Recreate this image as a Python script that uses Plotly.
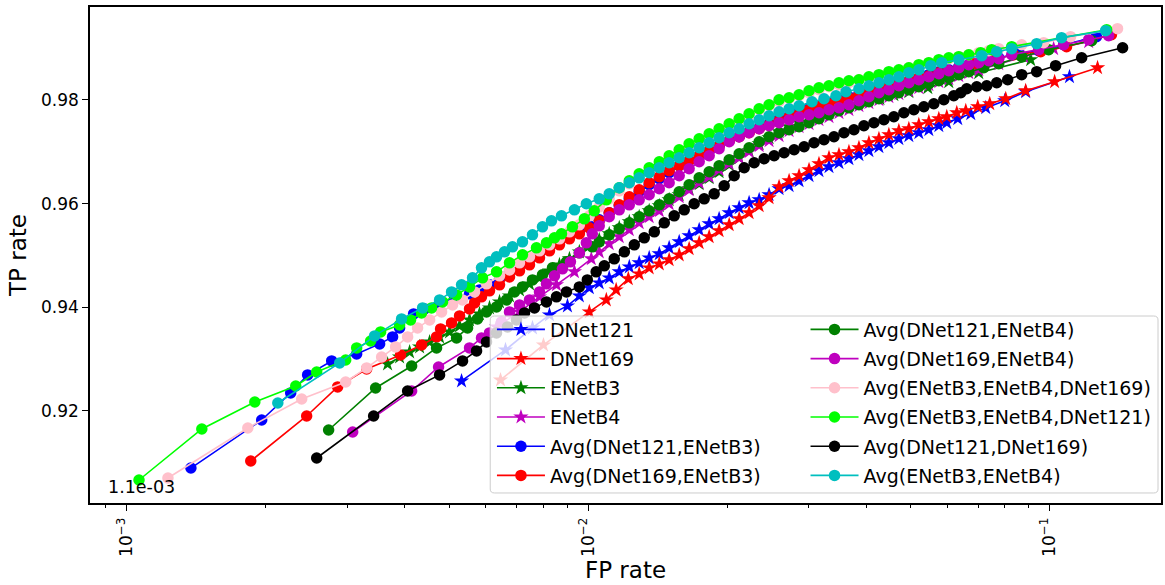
import plotly.graph_objects as go

# ---------------- data ----------------
names = ["DNet121", "DNet169", "ENetB3", "ENetB4",
         "Avg(DNet121,ENetB3)", "Avg(DNet169,ENetB3)",
         "Avg(DNet121,ENetB4)", "Avg(DNet169,ENetB4)",
         "Avg(ENetB3,ENetB4,DNet169)", "Avg(ENetB3,ENetB4,DNet121)",
         "Avg(DNet121,DNet169)", "Avg(ENetB3,ENetB4)"]

fp_dnet121 = [5.312e-3, 6.615e-3, 7.568e-3, 8.238e-3, 9.011e-3, 9.562e-3, 10.05e-3, 10.56e-3, 11.10e-3, 11.67e-3,
              12.27e-3, 12.89e-3, 13.55e-3, 14.25e-3, 14.97e-3, 15.74e-3, 16.54e-3, 17.39e-3, 18.28e-3, 19.21e-3,
              20.20e-3, 21.23e-3, 22.31e-3, 23.46e-3, 24.65e-3, 25.91e-3, 27.24e-3, 28.63e-3, 30.09e-3, 31.62e-3,
              33.24e-3, 34.94e-3, 36.72e-3, 38.60e-3, 40.57e-3, 42.65e-3, 44.82e-3, 47.11e-3, 49.52e-3, 52.05e-3,
              54.71e-3, 57.51e-3, 59.84e-3, 63.21e-3, 67.45e-3, 72.69e-3, 79.91e-3, 88.72e-3, 110.4e-3]
tp_dnet121 = [0.92575, 0.93174, 0.93599, 0.93850, 0.94024, 0.94217, 0.94372, 0.94468, 0.94565, 0.94681,
              0.94777, 0.94855, 0.94951, 0.95029, 0.95145, 0.95261, 0.95376, 0.95492, 0.95608, 0.95705,
              0.95821, 0.95917, 0.96014, 0.96072, 0.96169, 0.96285, 0.96343, 0.96439, 0.96536, 0.96633,
              0.96710, 0.96787, 0.96864, 0.96942, 0.97019, 0.97097, 0.97174, 0.97251, 0.97309, 0.97367,
              0.97425, 0.97502, 0.97560, 0.97637, 0.97734, 0.97850, 0.97985, 0.98159, 0.98449]

fp_dnet169 = [6.452e-3, 7.995e-3, 10.05e-3, 10.94e-3, 11.49e-3, 12.21e-3, 12.89e-3, 13.55e-3, 14.25e-3, 14.97e-3,
              15.74e-3, 16.54e-3, 17.39e-3, 18.28e-3, 19.21e-3, 20.20e-3, 21.23e-3, 22.31e-3, 23.46e-3, 24.65e-3,
              25.91e-3, 27.24e-3, 28.63e-3, 30.09e-3, 31.62e-3, 33.24e-3, 34.94e-3, 36.72e-3, 38.60e-3, 40.57e-3,
              42.65e-3, 44.82e-3, 47.11e-3, 49.52e-3, 52.05e-3, 54.71e-3, 57.51e-3, 59.84e-3, 62.90e-3, 65.79e-3,
              69.84e-3, 74.15e-3, 80.31e-3, 88.72e-3, 102.5e-3, 127.0e-3]
tp_dnet169 = [0.92594, 0.93270, 0.93908, 0.94140, 0.94333, 0.94546, 0.94642, 0.94758, 0.94835, 0.94913,
              0.95009, 0.95125, 0.95241, 0.95357, 0.95473, 0.95589, 0.95705, 0.95821, 0.95956, 0.96111,
              0.96323, 0.96439, 0.96536, 0.96652, 0.96768, 0.96884, 0.96942, 0.97000, 0.97077, 0.97174,
              0.97251, 0.97328, 0.97406, 0.97444, 0.97522, 0.97580, 0.97637, 0.97676, 0.97753, 0.97792,
              0.97869, 0.97927, 0.98024, 0.98178, 0.98352, 0.98623]

fp_enetb3 = [3.672e-3, 3.899e-3, 4.099e-3, 4.308e-3, 4.529e-3, 4.760e-3, 5.003e-3, 5.259e-3, 5.528e-3, 5.810e-3,
             6.107e-3, 6.420e-3, 6.748e-3, 7.093e-3, 7.456e-3, 7.837e-3, 8.238e-3, 8.659e-3, 9.101e-3, 9.562e-3,
             10.05e-3, 10.56e-3, 11.10e-3, 11.67e-3, 12.27e-3, 12.89e-3, 13.55e-3, 14.25e-3, 14.97e-3, 15.74e-3,
             16.54e-3, 17.39e-3, 18.28e-3, 19.21e-3, 20.20e-3, 21.23e-3, 22.31e-3, 23.46e-3, 24.65e-3, 25.91e-3,
             27.24e-3, 28.63e-3, 30.54e-3, 33.24e-3, 36.18e-3, 39.17e-3, 42.86e-3, 45.95e-3, 49.52e-3, 54.44e-3,
             60.44e-3, 70.19e-3, 90.96e-3]
tp_enetb3 = [0.92903, 0.93038, 0.93135, 0.93232, 0.93328, 0.93425, 0.93521, 0.93637, 0.93753, 0.93869,
             0.93985, 0.94101, 0.94217, 0.94333, 0.94449, 0.94565, 0.94700, 0.94816, 0.94932, 0.95067,
             0.95183, 0.95299, 0.95415, 0.95531, 0.95647, 0.95744, 0.95859, 0.95956, 0.96072, 0.96169,
             0.96285, 0.96381, 0.96497, 0.96613, 0.96748, 0.96884, 0.97019, 0.97154, 0.97270, 0.97386,
             0.97483, 0.97560, 0.97657, 0.97753, 0.97869, 0.97966, 0.98024, 0.98101, 0.98159, 0.98236,
             0.98352, 0.98526, 0.98778]

fp_enetb4 = [6.325e-3, 7.093e-3, 7.837e-3, 8.530e-3, 9.331e-3, 10.15e-3, 10.56e-3, 11.10e-3, 11.67e-3, 12.27e-3,
             12.89e-3, 13.55e-3, 14.25e-3, 14.97e-3, 15.74e-3, 16.54e-3, 17.39e-3, 18.28e-3, 19.21e-3, 20.20e-3,
             21.23e-3, 22.31e-3, 23.46e-3, 24.65e-3, 25.91e-3, 27.24e-3, 28.63e-3, 30.09e-3, 31.62e-3, 33.24e-3,
             34.94e-3, 36.72e-3, 38.60e-3, 40.57e-3, 42.65e-3, 44.82e-3, 47.11e-3, 49.52e-3, 52.05e-3, 54.71e-3,
             57.51e-3, 60.44e-3, 63.53e-3, 66.78e-3, 70.19e-3, 77.55e-3, 87.84e-3, 102.0e-3, 121.5e-3]
tp_enetb4 = [0.93618, 0.93908, 0.94198, 0.94430, 0.94681, 0.94932, 0.95067, 0.95222, 0.95357, 0.95492,
             0.95628, 0.95744, 0.95859, 0.95995, 0.96130, 0.96265, 0.96401, 0.96517, 0.96652, 0.96768,
             0.96884, 0.97000, 0.97116, 0.97212, 0.97309, 0.97406, 0.97483, 0.97541, 0.97618, 0.97676,
             0.97753, 0.97811, 0.97889, 0.97947, 0.98005, 0.98063, 0.98120, 0.98178, 0.98236, 0.98294,
             0.98352, 0.98410, 0.98468, 0.98526, 0.98584, 0.98700, 0.98836, 0.98990, 0.99125]

fp_avg_d121_b3 = [1.376e-3, 1.959e-3, 2.264e-3, 2.464e-3, 2.778e-3, 3.147e-3, 3.529e-3, 3.765e-3, 3.899e-3, 4.181e-3,
                  4.417e-3, 4.760e-3, 5.130e-3, 5.528e-3, 5.810e-3, 6.107e-3, 6.420e-3, 6.748e-3, 7.093e-3, 7.456e-3,
                  7.837e-3, 8.238e-3, 8.659e-3, 9.101e-3, 9.562e-3, 10.05e-3, 10.56e-3, 11.10e-3, 11.67e-3, 12.27e-3,
                  12.89e-3, 13.55e-3, 14.25e-3, 14.97e-3, 15.74e-3, 16.54e-3, 17.39e-3, 18.28e-3, 19.21e-3, 20.20e-3,
                  21.23e-3, 22.31e-3, 23.46e-3, 24.65e-3, 25.91e-3, 27.24e-3, 28.63e-3, 30.09e-3, 31.62e-3, 33.24e-3,
                  34.94e-3, 36.72e-3, 38.60e-3, 40.57e-3, 42.65e-3, 44.82e-3, 47.11e-3, 49.52e-3, 52.05e-3, 54.71e-3,
                  57.51e-3, 60.44e-3, 63.53e-3, 66.78e-3, 71.97e-3, 77.55e-3, 85.68e-3, 94.67e-3, 107.2e-3, 126.3e-3]
tp_avg_d121_b3 = [0.90893, 0.91821, 0.92343, 0.92691, 0.92961, 0.93096, 0.93290, 0.93425, 0.93599, 0.93869,
                  0.93966, 0.94082, 0.94178, 0.94256, 0.94333, 0.94430, 0.94546, 0.94681, 0.94797, 0.94913,
                  0.95048, 0.95164, 0.95261, 0.95357, 0.95454, 0.95570, 0.95686, 0.95821, 0.95956, 0.96091,
                  0.96227, 0.96362, 0.96478, 0.96594, 0.96729, 0.96826, 0.96922, 0.97019, 0.97116, 0.97212,
                  0.97290, 0.97386, 0.97464, 0.97541, 0.97637, 0.97695, 0.97773, 0.97850, 0.97889, 0.97947,
                  0.98005, 0.98063, 0.98120, 0.98159, 0.98217, 0.98275, 0.98333, 0.98372, 0.98430, 0.98488,
                  0.98546, 0.98584, 0.98642, 0.98681, 0.98739, 0.98816, 0.98894, 0.98951, 0.99067, 0.99222]

fp_avg_d169_b3 = [1.855e-3, 2.452e-3, 2.862e-3, 3.308e-3, 3.918e-3, 4.351e-3, 4.689e-3, 4.784e-3, 5.053e-3, 5.259e-3,
                  5.528e-3, 5.668e-3, 5.868e-3, 6.107e-3, 6.420e-3, 6.748e-3, 7.093e-3, 7.456e-3, 7.837e-3, 8.238e-3,
                  8.659e-3, 9.101e-3, 9.562e-3, 10.05e-3, 10.56e-3, 11.10e-3, 11.67e-3, 12.27e-3, 12.89e-3, 13.55e-3,
                  14.25e-3, 14.97e-3, 15.74e-3, 16.54e-3, 17.39e-3, 18.28e-3, 19.21e-3, 20.20e-3, 21.23e-3, 22.31e-3,
                  23.46e-3, 24.65e-3, 25.91e-3, 27.24e-3, 28.63e-3, 30.09e-3, 31.62e-3, 33.24e-3, 34.94e-3, 36.72e-3,
                  38.60e-3, 40.57e-3, 42.65e-3, 44.82e-3, 47.11e-3, 49.52e-3, 52.05e-3, 54.71e-3, 57.51e-3, 60.44e-3,
                  63.53e-3, 68.47e-3, 74.89e-3, 83.57e-3, 95.62e-3, 108.8e-3, 136.1e-3]
tp_avg_d169_b3 = [0.91029, 0.91898, 0.92459, 0.92806, 0.93077, 0.93270, 0.93425, 0.93579, 0.93695, 0.93831,
                  0.93966, 0.94082, 0.94198, 0.94314, 0.94430, 0.94584, 0.94700, 0.94816, 0.94951, 0.95087,
                  0.95203, 0.95318, 0.95415, 0.95531, 0.95666, 0.95821, 0.95975, 0.96130, 0.96265, 0.96401,
                  0.96517, 0.96633, 0.96729, 0.96826, 0.96922, 0.97019, 0.97116, 0.97212, 0.97290, 0.97367,
                  0.97444, 0.97522, 0.97599, 0.97676, 0.97734, 0.97811, 0.97869, 0.97927, 0.97985, 0.98043,
                  0.98101, 0.98159, 0.98217, 0.98256, 0.98314, 0.98372, 0.98430, 0.98468, 0.98526, 0.98565,
                  0.98623, 0.98700, 0.98778, 0.98874, 0.98932, 0.99029, 0.99261]

fp_avg_d121_b4 = [2.736e-3, 3.459e-3, 4.140e-3, 4.689e-3, 5.181e-3, 5.473e-3, 5.752e-3, 6.017e-3, 6.325e-3, 6.648e-3,
                  6.919e-3, 7.200e-3, 7.568e-3, 7.955e-3, 8.362e-3, 8.967e-3, 9.562e-3, 10.20e-3, 10.56e-3, 11.10e-3,
                  11.67e-3, 12.27e-3, 12.89e-3, 13.55e-3, 14.25e-3, 14.97e-3, 15.74e-3, 16.54e-3, 17.39e-3, 18.28e-3,
                  19.21e-3, 20.20e-3, 21.23e-3, 22.31e-3, 23.46e-3, 24.65e-3, 25.91e-3, 27.24e-3, 28.63e-3, 30.09e-3,
                  31.62e-3, 33.24e-3, 34.94e-3, 36.72e-3, 38.60e-3, 40.57e-3, 42.65e-3, 44.82e-3, 47.11e-3, 49.52e-3,
                  52.05e-3, 54.71e-3, 57.51e-3, 60.44e-3, 63.53e-3, 66.78e-3, 71.97e-3, 77.55e-3, 86.96e-3, 99.50e-3,
                  123.3e-3]
tp_avg_d121_b4 = [0.91628, 0.92439, 0.92864, 0.93212, 0.93405, 0.93599, 0.93773, 0.93908, 0.94004, 0.94140,
                  0.94294, 0.94391, 0.94526, 0.94623, 0.94758, 0.94874, 0.95048, 0.95164, 0.95261, 0.95396,
                  0.95512, 0.95628, 0.95744, 0.95859, 0.95975, 0.96091, 0.96227, 0.96362, 0.96497, 0.96613,
                  0.96729, 0.96845, 0.96961, 0.97077, 0.97193, 0.97290, 0.97367, 0.97425, 0.97483, 0.97560,
                  0.97637, 0.97715, 0.97792, 0.97850, 0.97908, 0.97966, 0.98024, 0.98082, 0.98140, 0.98198,
                  0.98256, 0.98314, 0.98372, 0.98430, 0.98488, 0.98546, 0.98623, 0.98700, 0.98836, 0.98971,
                  0.99145]

fp_avg_d169_b4 = [3.085e-3, 4.140e-3, 4.736e-3, 5.528e-3, 5.868e-3, 6.107e-3, 6.484e-3, 6.748e-3, 7.093e-3, 7.456e-3,
                  7.837e-3, 8.115e-3, 8.446e-3, 8.789e-3, 9.146e-3, 9.562e-3, 9.902e-3, 10.20e-3, 10.56e-3, 11.10e-3,
                  11.67e-3, 12.27e-3, 12.89e-3, 13.55e-3, 14.25e-3, 14.97e-3, 15.74e-3, 16.54e-3, 17.39e-3, 18.28e-3,
                  19.21e-3, 20.20e-3, 21.23e-3, 22.31e-3, 23.46e-3, 24.65e-3, 25.91e-3, 27.24e-3, 28.63e-3, 30.09e-3,
                  31.62e-3, 33.24e-3, 34.94e-3, 36.72e-3, 38.60e-3, 40.57e-3, 42.65e-3, 44.82e-3, 47.11e-3, 49.52e-3,
                  52.05e-3, 54.71e-3, 57.51e-3, 60.44e-3, 63.53e-3, 66.78e-3, 70.19e-3, 73.78e-3, 77.55e-3, 82.73e-3,
                  94.67e-3, 107.2e-3, 121.5e-3, 134.2e-3]
tp_avg_d169_b4 = [0.91589, 0.92381, 0.92845, 0.93212, 0.93405, 0.93502, 0.93715, 0.93908, 0.94043, 0.94140,
                  0.94294, 0.94449, 0.94604, 0.94739, 0.94874, 0.95048, 0.95241, 0.95415, 0.95570, 0.95744,
                  0.95879, 0.95975, 0.96072, 0.96169, 0.96285, 0.96401, 0.96536, 0.96671, 0.96806, 0.96922,
                  0.97058, 0.97193, 0.97290, 0.97367, 0.97444, 0.97502, 0.97560, 0.97618, 0.97676, 0.97715,
                  0.97753, 0.97811, 0.97850, 0.97908, 0.97985, 0.98063, 0.98140, 0.98198, 0.98275, 0.98333,
                  0.98391, 0.98449, 0.98507, 0.98565, 0.98623, 0.98681, 0.98720, 0.98758, 0.98797, 0.98874,
                  0.98971, 0.99067, 0.99164, 0.99241]

fp_avg_b3_b4_d169 = [1.227e-3, 1.828e-3, 2.392e-3, 2.979e-3, 3.308e-3, 3.564e-3, 3.822e-3, 4.058e-3, 4.265e-3, 4.529e-3,
                     4.808e-3, 5.079e-3, 5.338e-3, 5.668e-3, 6.017e-3, 6.420e-3, 6.748e-3, 7.093e-3, 7.456e-3, 7.837e-3,
                     8.238e-3, 8.659e-3, 9.101e-3, 9.562e-3, 10.05e-3, 10.56e-3, 11.10e-3, 11.67e-3, 12.27e-3, 12.89e-3,
                     13.55e-3, 14.25e-3, 14.97e-3, 15.74e-3, 16.54e-3, 17.39e-3, 18.28e-3, 19.21e-3, 20.20e-3, 21.23e-3,
                     22.31e-3, 23.46e-3, 24.65e-3, 25.91e-3, 27.24e-3, 28.63e-3, 30.09e-3, 31.62e-3, 33.24e-3, 34.94e-3,
                     36.72e-3, 38.60e-3, 40.57e-3, 42.65e-3, 44.82e-3, 47.11e-3, 49.52e-3, 52.05e-3, 54.71e-3, 57.51e-3,
                     60.44e-3, 63.53e-3, 66.78e-3, 70.19e-3, 73.78e-3, 77.55e-3, 86.96e-3, 97.06e-3, 111.0e-3, 140.3e-3]
tp_avg_b3_b4_d169 = [0.90700, 0.91666, 0.92227, 0.92555, 0.92826, 0.93038, 0.93232, 0.93425, 0.93599, 0.93753,
                     0.93908, 0.94043, 0.94140, 0.94294, 0.94449, 0.94604, 0.94719, 0.94855, 0.94971, 0.95087,
                     0.95203, 0.95318, 0.95454, 0.95589, 0.95763, 0.95937, 0.96091, 0.96246, 0.96381, 0.96517,
                     0.96633, 0.96748, 0.96864, 0.96980, 0.97097, 0.97212, 0.97309, 0.97406, 0.97502, 0.97618,
                     0.97715, 0.97811, 0.97889, 0.97966, 0.98024, 0.98082, 0.98140, 0.98198, 0.98256, 0.98294,
                     0.98333, 0.98391, 0.98430, 0.98468, 0.98526, 0.98565, 0.98623, 0.98662, 0.98720, 0.98758,
                     0.98797, 0.98836, 0.98874, 0.98913, 0.98951, 0.98990, 0.99067, 0.99106, 0.99222, 0.99377]

fp_avg_b3_b4_d121 = [1.062e-3, 1.453e-3, 1.893e-3, 2.322e-3, 2.578e-3, 2.979e-3, 3.147e-3, 3.374e-3, 3.547e-3, 3.899e-3,
                     4.119e-3, 4.351e-3, 4.574e-3, 4.831e-3, 5.181e-3, 5.528e-3, 5.897e-3, 6.325e-3, 6.748e-3, 7.200e-3,
                     7.720e-3, 8.115e-3, 8.446e-3, 8.746e-3, 9.238e-3, 9.804e-3, 10.30e-3, 10.94e-3, 11.67e-3, 12.27e-3,
                     12.89e-3, 13.55e-3, 14.25e-3, 14.97e-3, 15.74e-3, 16.54e-3, 17.39e-3, 18.28e-3, 19.21e-3, 20.20e-3,
                     21.23e-3, 22.31e-3, 23.46e-3, 24.65e-3, 25.91e-3, 27.24e-3, 28.63e-3, 30.09e-3, 31.62e-3, 33.24e-3,
                     34.94e-3, 36.72e-3, 38.60e-3, 40.57e-3, 42.65e-3, 44.82e-3, 47.11e-3, 49.52e-3, 52.05e-3, 54.71e-3,
                     57.51e-3, 60.44e-3, 63.53e-3, 66.78e-3, 70.89e-3, 74.89e-3, 82.73e-3, 132.9e-3]
tp_avg_b3_b4_d121 = [0.90662, 0.91647, 0.92169, 0.92478, 0.92748, 0.92980, 0.93212, 0.93347, 0.93521, 0.93657,
                     0.93753, 0.93889, 0.93985, 0.94101, 0.94236, 0.94391, 0.94565, 0.94681, 0.94855, 0.95009,
                     0.95145, 0.95241, 0.95338, 0.95415, 0.95550, 0.95705, 0.95859, 0.96072, 0.96304, 0.96439,
                     0.96575, 0.96691, 0.96806, 0.96922, 0.97038, 0.97154, 0.97251, 0.97348, 0.97444, 0.97541,
                     0.97637, 0.97734, 0.97831, 0.97908, 0.98005, 0.98043, 0.98101, 0.98178, 0.98236, 0.98275,
                     0.98333, 0.98372, 0.98391, 0.98449, 0.98488, 0.98546, 0.98584, 0.98623, 0.98681, 0.98720,
                     0.98778, 0.98816, 0.98836, 0.98874, 0.98913, 0.98971, 0.99029, 0.99357]

fp_avg_d121_d169 = [2.578e-3, 3.425e-3, 4.058e-3, 4.760e-3, 5.338e-3, 5.725e-3, 6.017e-3, 6.325e-3, 6.681e-3, 6.988e-3,
                    7.273e-3, 7.644e-3, 8.115e-3, 8.530e-3, 8.967e-3, 9.562e-3, 9.950e-3, 10.40e-3, 10.83e-3, 11.38e-3,
                    11.97e-3, 12.58e-3, 13.22e-3, 13.90e-3, 14.61e-3, 15.35e-3, 16.14e-3, 16.96e-3, 17.83e-3, 18.74e-3,
                    19.70e-3, 20.71e-3, 21.77e-3, 22.88e-3, 24.05e-3, 25.28e-3, 26.57e-3, 27.93e-3, 29.36e-3, 30.85e-3,
                    32.42e-3, 34.08e-3, 35.82e-3, 37.65e-3, 39.57e-3, 41.60e-3, 43.72e-3, 45.95e-3, 48.30e-3, 50.77e-3,
                    53.37e-3, 56.09e-3, 58.96e-3, 61.97e-3, 64.17e-3, 66.11e-3, 69.49e-3, 73.04e-3, 76.77e-3, 81.10e-3,
                    86.96e-3, 93.72e-3, 103.0e-3, 117.3e-3, 143.9e-3]
tp_avg_d121_d169 = [0.91087, 0.91898, 0.92381, 0.92691, 0.92961, 0.93154, 0.93328, 0.93502, 0.93618, 0.93753,
                    0.93889, 0.93985, 0.94101, 0.94198, 0.94294, 0.94391, 0.94526, 0.94681, 0.94797, 0.94932,
                    0.95067, 0.95203, 0.95338, 0.95454, 0.95628, 0.95763, 0.95879, 0.95995, 0.96091, 0.96188,
                    0.96343, 0.96536, 0.96691, 0.96787, 0.96864, 0.96922, 0.96980, 0.97038, 0.97097, 0.97174,
                    0.97232, 0.97290, 0.97367, 0.97425, 0.97502, 0.97560, 0.97618, 0.97676, 0.97753, 0.97811,
                    0.97869, 0.97927, 0.98005, 0.98082, 0.98140, 0.98217, 0.98256, 0.98275, 0.98333, 0.98391,
                    0.98488, 0.98546, 0.98662, 0.98816, 0.99009]

fp_avg_b3_b4 = [2.123e-3, 2.891e-3, 3.442e-3, 3.938e-3, 4.373e-3, 4.760e-3, 5.053e-3, 5.312e-3, 5.611e-3, 5.868e-3,
                6.107e-3, 6.325e-3, 6.582e-3, 6.850e-3, 7.200e-3, 7.568e-3, 7.955e-3, 8.320e-3, 8.746e-3, 9.331e-3,
                9.902e-3, 10.56e-3, 11.10e-3, 11.67e-3, 12.27e-3, 12.89e-3, 13.55e-3, 14.25e-3, 14.97e-3, 15.74e-3,
                16.54e-3, 17.39e-3, 18.28e-3, 19.21e-3, 20.20e-3, 21.23e-3, 22.31e-3, 23.46e-3, 24.65e-3, 25.91e-3,
                27.24e-3, 28.63e-3, 30.54e-3, 32.42e-3, 34.42e-3, 36.18e-3, 38.60e-3, 40.57e-3, 42.65e-3, 44.82e-3,
                47.11e-3, 49.52e-3, 52.05e-3, 55.26e-3, 58.37e-3, 63.53e-3, 71.25e-3, 76.77e-3, 82.73e-3, 93.72e-3,
                106.1e-3, 132.2e-3]
tp_avg_b3_b4 = [0.92149, 0.92922, 0.93444, 0.93773, 0.93985, 0.94140, 0.94294, 0.94430, 0.94565, 0.94758,
                0.94874, 0.94971, 0.95067, 0.95164, 0.95261, 0.95396, 0.95550, 0.95666, 0.95763, 0.95879,
                0.95995, 0.96091, 0.96188, 0.96304, 0.96401, 0.96497, 0.96594, 0.96691, 0.96787, 0.96884,
                0.96980, 0.97077, 0.97174, 0.97270, 0.97367, 0.97444, 0.97541, 0.97618, 0.97695, 0.97773,
                0.97831, 0.97889, 0.97966, 0.98024, 0.98082, 0.98159, 0.98217, 0.98275, 0.98333, 0.98391,
                0.98449, 0.98526, 0.98584, 0.98662, 0.98720, 0.98778, 0.98855, 0.98932, 0.98990, 0.99087,
                0.99203, 0.99338]

colors = ["#0000ff", "#ff0000", "#008000", "#bf00bf", "#0000ff", "#ff0000",
          "#008000", "#bf00bf", "#ffc0cb", "#00ff00", "#000000", "#00bfbf"]
symbols = ["star"] * 4 + ["circle"] * 8

fps = [fp_dnet121, fp_dnet169, fp_enetb3, fp_enetb4, fp_avg_d121_b3, fp_avg_d169_b3,
       fp_avg_d121_b4, fp_avg_d169_b4, fp_avg_b3_b4_d169, fp_avg_b3_b4_d121, fp_avg_d121_d169, fp_avg_b3_b4]
tps = [tp_dnet121, tp_dnet169, tp_enetb3, tp_enetb4, tp_avg_d121_b3, tp_avg_d169_b3,
       tp_avg_d121_b4, tp_avg_d169_b4, tp_avg_b3_b4_d169, tp_avg_b3_b4_d121, tp_avg_d121_d169, tp_avg_b3_b4]

x_tickvals = [1e-3, 1e-2, 1e-1]
x_ticktext = ["10<sup>−3</sup>", "10<sup>−2</sup>", "10<sup>−1</sup>"]
y_tickvals = [0.92, 0.94, 0.96, 0.98]
y_ticktext = ["0.92", "0.94", "0.96", "0.98"]
minor_vals = [m * d for d in (1e-4, 1e-3, 1e-2) for m in range(2, 10)]

FONT = "DejaVu Sans"

fig = go.Figure()
for i in range(12):
    n = min(len(fps[i]), len(tps[i]))
    fig.add_trace(go.Scatter(
        x=fps[i][:n], y=tps[i][:n], name=names[i], mode="lines+markers",
        line=dict(color=colors[i], width=1.6),
        marker=dict(symbol=symbols[i], size=11.5,
                    color=colors[i], line=dict(width=0)),
        legend="legend" if i < 6 else "legend2",
        legendgroup=names[i],
        showlegend=True,
    ))

# legend frame (rounded box, semi-transparent white)
x0, x1 = 0.3737, 0.9972
y0, y1 = 0.0202, 0.377
rx, ry = 0.004, 0.008
path = (f"M {x0+rx},{y0} L {x1-rx},{y0} Q {x1},{y0} {x1},{y0+ry} L {x1},{y1-ry} "
        f"Q {x1},{y1} {x1-rx},{y1} L {x0+rx},{y1} Q {x0},{y1} {x0},{y1-ry} "
        f"L {x0},{y0+ry} Q {x0},{y0} {x0+rx},{y0} Z")
fig.add_shape(type="path", path=path, xref="paper", yref="paper",
              fillcolor="rgba(255,255,255,0.8)", line=dict(color="#cccccc", width=1),
              layer="above")

legend_common = dict(xanchor="left", yanchor="top", bgcolor="rgba(0,0,0,0)", borderwidth=0,
                     font=dict(family=FONT, size=19, color="black"),
                     traceorder="grouped", tracegroupgap=1.5, itemwidth=48)

fig.update_layout(
    width=1165, height=585,
    margin=dict(l=90, r=2, t=7, b=82),
    paper_bgcolor="white", plot_bgcolor="white",
    font=dict(family=FONT, color="black"),
    showlegend=True,
    legend=dict(x=0.3753, y=0.388, **legend_common),
    legend2=dict(x=0.6681, y=0.388, **legend_common),
    xaxis=dict(type="log", range=[-3.0801, -0.7587],
               showline=True, mirror=True, linecolor="black", linewidth=1.6,
               showgrid=False, zeroline=False,
               ticks="outside", ticklen=6, tickwidth=1.3, tickcolor="black",
               tickmode="array", tickvals=x_tickvals, ticktext=x_ticktext, tickangle=-90,
               tickfont=dict(family=FONT, size=17, color="black"),
               minor=dict(tickmode="array", tickvals=minor_vals, ticks="outside",
                          ticklen=3.5, tickwidth=1, tickcolor="black", showgrid=False),
               title=dict(text="FP rate", font=dict(family=FONT, size=23, color="black"), standoff=6)),
    yaxis=dict(range=[0.90218, 0.99795],
               showline=True, mirror=True, linecolor="black", linewidth=1.6,
               showgrid=False, zeroline=False,
               ticks="outside", ticklen=6, tickwidth=1.3, tickcolor="black",
               tickmode="array", tickvals=y_tickvals, ticktext=y_ticktext,
               tickfont=dict(family=FONT, size=17, color="black"),
               title=dict(text="TP rate", font=dict(family=FONT, size=23, color="black"), standoff=8)),
)

fig.add_annotation(text="1.1e-03", xref="paper", yref="paper", x=0.0149, y=0.0323,
                   xanchor="left", yanchor="middle", showarrow=False,
                   font=dict(family=FONT, size=17.5, color="black"))

fig.write_html("out.html", config={"displayModeBar": False},
               post_script="document.body.style.margin='0';")
